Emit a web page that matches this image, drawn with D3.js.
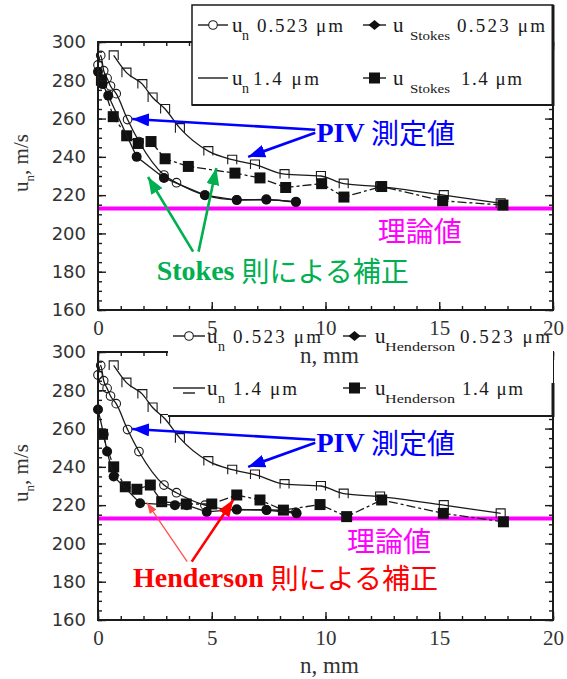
<!DOCTYPE html>
<html><head><meta charset="utf-8">
<script src="https://cdn.jsdelivr.net/npm/d3@7"></script>
<style>body{margin:0;background:#fff} svg{display:block}</style>
</head><body><svg id="c" width="567" height="679"></svg>
<script>
// ---------- data ----------
const xTicks = [0, 5, 10, 15, 20];
const yTicks = [160, 180, 200, 220, 240, 260, 280, 300];
const theoryU = 213;
// measured (PIV) velocities [n mm, u m/s]
const un0523 = [[0.0,288],[0.12,293],[0.25,285],[0.4,281],[0.55,277],[0.8,273],[1.3,259.5],[1.8,248],[2.9,230.5],[3.45,226.5],[4.7,220],[6.1,217.6],[7.4,217.6],[8.7,216.3]];
const un14 = [[0.69,293],[1.25,284],[1.95,278],[2.4,271],[2.95,265],[3.6,255],[4.85,243],[5.9,238.5],[6.9,236],[8.2,231],[9.8,230],[10.8,226],[12.4,224.5],[15.2,220],[17.7,215.7]];
// Stokes corrected
const stokes0523 = [[0.0,284.5],[0.2,278],[0.45,272],[1.7,240],[2.9,229],[4.7,220],[6.1,217.4],[7.4,217.8],[8.7,216.6]];
const stokes14 = [[0.15,280],[0.67,261],[1.26,251],[1.77,247],[2.33,248],[2.95,239],[3.97,235],[6.02,231.5],[7.12,229],[8.25,224],[9.83,226],[10.81,219],[12.47,224.5],[15.15,217],[17.8,214.8]];
// Henderson corrected
const henderson0523 = [[0.0,270],[0.25,257],[0.4,248],[0.69,235],[1.85,221],[3.38,220],[3.9,220],[4.78,216.5],[6.1,217.8],[7.41,217.4],[8.73,215.7]];
const henderson14 = [[0.2,257],[0.69,240],[1.2,229.6],[1.71,228.3],[2.3,230.5],[2.8,221.8],[3.88,220.6],[5.0,220.6],[6.1,225.3],[7.12,222.7],[8.15,217.4],[9.76,220.3],[10.93,214],[12.47,222.7],[15.18,215.7],[17.82,211.3]];
const corrNames = ["Stokes", "Henderson"];
const sizeLabels = ["0.523 \u03bcm", "1.4 \u03bcm"];

// ---------- layout ----------
const svg = d3.select("#c");
const X0 = 98, X1 = 553;
const INK = "#1a1a1a";
const SERIF = "'Liberation Serif','Times New Roman',serif";

const defs = svg.append("defs");
function arrowMarker(id, color, len, wid){
  defs.append("marker").attr("id", id).attr("markerUnits","userSpaceOnUse")
    .attr("markerWidth", len).attr("markerHeight", wid)
    .attr("refX", len).attr("refY", wid/2).attr("orient","auto")
    .append("path").attr("d", `M0,0L${len},${wid/2}L0,${wid}Z`).attr("fill", color);
}
arrowMarker("ab", "#0000ff", 17, 13);
arrowMarker("ag", "#00b050", 17, 13);
arrowMarker("ar", "#ff0000", 17, 13);
arrowMarker("ar2", "#ff5050", 11, 8);

const panels = [
  {top:42, bottom:310, corrSmall:stokes0523, corrLarge:stokes14, name:corrNames[0]},
  {top:352, bottom:620, corrSmall:henderson0523, corrLarge:henderson14, name:corrNames[1]}
];

const capPath = "M-4.5,4.5V-4.5H4.5V4.5";
const topXLabelGroups = [];

panels.forEach((p, i) => {
  const x = d3.scaleLinear([0, 20], [X0, X1]);
  const y = d3.scaleLinear([160, 300], [p.bottom, p.top]);
  p.x = x; p.y = y;
  const g = svg.append("g");

  // theoretical value
  g.append("line").attr("x1", x(0)).attr("x2", x(20))
    .attr("y1", y(theoryU)).attr("y2", y(theoryU))
    .attr("stroke", "#ff00ff").attr("stroke-width", 4);

  const smooth = d3.line().x(d => x(d[0])).y(d => y(d[1])).curve(d3.curveMonotoneX);
  const straight = d3.line().x(d => x(d[0])).y(d => y(d[1]));

  // u_n 1.4
  g.append("path").attr("d", smooth(un14)).attr("fill","none").attr("stroke",INK).attr("stroke-width",1.3);
  g.selectAll(".m14").data(un14).join("path")
    .attr("transform", d => `translate(${x(d[0])},${y(d[1])})`)
    .attr("d", capPath).attr("fill","none").attr("stroke",INK).attr("stroke-width",1.1);
  // u_n 0.523
  g.append("path").attr("d", smooth(un0523)).attr("fill","none").attr("stroke",INK).attr("stroke-width",1.3);
  g.selectAll(".m05").data(un0523).join("circle")
    .attr("cx", d => x(d[0])).attr("cy", d => y(d[1])).attr("r", 4.3)
    .attr("fill","none").attr("stroke",INK).attr("stroke-width",1.1);
  // corrected 1.4
  g.append("path").attr("d", straight(p.corrLarge)).attr("fill","none").attr("stroke",INK)
    .attr("stroke-width",1.3).attr("stroke-dasharray","9,3,3,3");
  g.selectAll(".c14").data(p.corrLarge).join("rect")
    .attr("x", d => x(d[0]) - 5.5).attr("y", d => y(d[1]) - 5.5)
    .attr("width", 11).attr("height", 11).attr("fill", "#111");
  // corrected 0.523
  g.append("path").attr("d", straight(p.corrSmall)).attr("fill","none").attr("stroke",INK).attr("stroke-width",1.3);
  g.selectAll(".c05").data(p.corrSmall).join("circle")
    .attr("cx", d => x(d[0])).attr("cy", d => y(d[1])).attr("r", 5)
    .attr("fill", "#111");

  // axes
  const styleAxis = sel => { sel.select(".domain").remove(); sel.selectAll("line").attr("stroke", INK).attr("stroke-width", 1.4); };
  g.append("g").attr("transform", `translate(${X0},0)`)
    .call(d3.axisLeft(y).tickValues(d3.range(160, 301, 5)).tickSize(-4).tickFormat("")).call(styleAxis);
  const yl = g.append("g").attr("transform", `translate(${X0},0)`)
    .call(d3.axisLeft(y).tickValues(yTicks).tickSize(-8).tickPadding(12)).call(styleAxis);
  yl.selectAll("text").attr("font-family","'DejaVu Sans',sans-serif").attr("font-size",18).attr("fill","#333");
  g.append("g").attr("transform", `translate(${X1},0)`)
    .call(d3.axisRight(y).tickValues(d3.range(160, 301, 5)).tickSize(-4).tickFormat("")).call(styleAxis);
  g.append("g").attr("transform", `translate(${X1},0)`)
    .call(d3.axisRight(y).tickValues(yTicks).tickSize(-8).tickFormat("")).call(styleAxis);
  g.append("g").attr("transform", `translate(0,${p.top})`)
    .call(d3.axisTop(x).tickValues(d3.range(0, 21, 1)).tickSize(-4).tickFormat("")).call(styleAxis);
  g.append("g").attr("transform", `translate(0,${p.top})`)
    .call(d3.axisTop(x).tickValues(xTicks).tickSize(-8).tickFormat("")).call(styleAxis);
  g.append("g").attr("transform", `translate(0,${p.bottom})`)
    .call(d3.axisBottom(x).tickValues(d3.range(0, 21, 1)).tickSize(-4).tickFormat("")).call(styleAxis);
  const xl = g.append("g").attr("transform", `translate(0,${p.bottom})`)
    .call(d3.axisBottom(x).tickValues(xTicks).tickSize(-8).tickPadding(10)).call(styleAxis);
  xl.selectAll("text").attr("font-family", SERIF).attr("font-size", 21).attr("fill","#333");
  const xt = g.append("text").attr("x", x(10) + 4).attr("y", p.bottom + 53)
    .attr("text-anchor","middle").attr("font-family",SERIF).attr("font-size",23).attr("fill","#333").text("n, mm");
  if (i === 0) { topXLabelGroups.push(xl.node(), xt.node()); }

  // frame
  g.append("rect").attr("x", X0).attr("y", p.top).attr("width", X1 - X0).attr("height", p.bottom - p.top)
    .attr("fill","none").attr("stroke", INK).attr("stroke-width", 2);

  // y title
  const yt = g.append("text").attr("transform", `translate(28,${(p.top + p.bottom)/2 - 13}) rotate(-90)`)
    .attr("text-anchor","middle").attr("font-family",SERIF).attr("font-size",21).attr("fill","#333");
  yt.append("tspan").text("u");
  yt.append("tspan").attr("font-size",13).attr("dy",6).text("n");
  yt.append("tspan").attr("dy",-6).text(", m/s");
});

// ---------- annotations ----------
function annot(p, cfg){
  const {x, y} = p;
  const t = svg.append("text").attr("x", x(cfg.n)).attr("y", y(cfg.u))
    .attr("dominant-baseline","central").attr("font-size",28).attr("fill",cfg.color);
  if (cfg.latin) t.append("tspan").attr("font-family",SERIF).attr("font-weight","bold").text(cfg.latin + " ");
  t.append("tspan").attr("font-family","'Noto Sans CJK JP',sans-serif").text(cfg.jp);
}
function arrow(p, a, b, color, w, mk){
  svg.append("line").attr("x1", p.x(a[0])).attr("y1", p.y(a[1])).attr("x2", p.x(b[0])).attr("y2", p.y(b[1]))
    .attr("stroke", color).attr("stroke-width", w).attr("marker-end", `url(#${mk})`);
}
panels.forEach((p, i) => {
  annot(p, {n:9.6, u:253, color:"#0000ff", latin:"PIV", jp:"測定値"});
  arrow(p, [9.55,254.2], [1.5,259.8], "#0000ff", 2.6, "ab");
  arrow(p, [9.55,252.6], [6.6,240.0], "#0000ff", 2.6, "ab");
});
annot(panels[0], {n:12.3, u:201.8, color:"#ff00ff", jp:"理論値"});
annot(panels[0], {n:2.58, u:181, color:"#00b050", latin:"Stokes", jp:"則による補正"});
arrow(panels[0], [4.18,190.5], [2.2,229.5], "#00b050", 2.6, "ag");
arrow(panels[0], [4.42,190.5], [5.2,234.2], "#00b050", 2.6, "ag");
annot(panels[1], {n:10.95, u:201.8, color:"#ff00ff", jp:"理論値"});
annot(panels[1], {n:1.54, u:182.5, color:"#ff0000", latin:"Henderson", jp:"則による補正"});
arrow(panels[1], [3.92,190.5], [2.15,221.3], "#ff5050", 1.3, "ar2");
arrow(panels[1], [4.12,190.5], [5.95,222.8], "#ff0000", 2.6, "ar");

// ---------- legends ----------
function legend(cfg){
  const L = svg.append("g");
  L.append("rect").attr("x", cfg.x0).attr("y", cfg.y0).attr("width", 553 - cfg.x0).attr("height", cfg.y1 - cfg.y0)
    .attr("fill","#fff").attr("stroke", cfg.box ? INK : "none").attr("stroke-width", 1.5);
  L.append("line").attr("x1", cfg.x0).attr("x2", 553).attr("y1", cfg.y1).attr("y2", cfg.y1).attr("stroke", INK).attr("stroke-width", 2);
  L.append("line").attr("x1", 553).attr("x2", 553).attr("y1", cfg.rTop).attr("y2", cfg.y1 + 1).attr("stroke", INK).attr("stroke-width", 3);
  const rows = cfg.rows;
  const entries = [
    {col:0, row:0, sub:"n", val:sizeLabels[0], sym:"circle"},
    {col:1, row:0, sub:cfg.name, val:sizeLabels[0], sym:"dot"},
    {col:0, row:1, sub:"n", val:sizeLabels[1], sym:"line"},
    {col:1, row:1, sub:cfg.name, val:sizeLabels[1], sym:"square"}
  ];
  entries.forEach(e => {
    const c = cfg.cols[e.col], by = rows[e.row];
    const sy = by - 7;
    L.append("line").attr("x1", c.s0).attr("x2", c.s1).attr("y1", sy).attr("y2", sy).attr("stroke", INK).attr("stroke-width", 1.4);
    const cx = (c.s0 + c.s1) / 2;
    if (e.sym === "circle") L.append("circle").attr("cx", cx).attr("cy", sy).attr("r", 4.3).attr("fill","#fff").attr("stroke",INK).attr("stroke-width",1.1);
    if (e.sym === "dot") L.append("path").attr("d", `M${cx-6},${sy}L${cx},${sy-5}L${cx+6},${sy}L${cx},${sy+5}Z`).attr("fill","#111");
    if (e.sym === "square") L.append("rect").attr("x", cx-5.5).attr("y", sy-5.5).attr("width",11).attr("height",11).attr("fill","#111");
    if (e.sym === "line" && cfg.name === "Henderson") L.append("line").attr("x1", cx-6).attr("x2", cx+6).attr("y1", sy+5).attr("y2", sy+5).attr("stroke", INK).attr("stroke-width",1.4);
    L.append("text").attr("x", c.u).attr("y", by).attr("font-family",SERIF).attr("font-size",21).attr("fill",INK).text("u");
    const st = L.append("text").attr("x", c.sub).attr("y", by + 8).attr("font-family",SERIF).attr("font-size", e.sub === "n" ? 14 : 12).attr("fill",INK).text(e.sub);
    if (e.sub !== "n") st.attr("textLength", c.subW).attr("lengthAdjust","spacingAndGlyphs");
    L.append("text").attr("x", c.v[e.row]).attr("y", by).attr("font-family",SERIF).attr("font-size",19).attr("fill",INK)
      .attr("textLength", c.vw[e.row]).attr("lengthAdjust","spacing").text(e.val);
  });
  return L;
}
legend({x0:192, y0:5, y1:105, rTop:5, box:true, name:"Stokes", rows:[32, 85],
  cols:[{s0:198, s1:228, u:232, sub:242, v:[257,253], vw:[86,66]},
        {s0:363, s1:386, u:393, sub:410, subW:40, v:[457,461], vw:[88,61]}]});
legend({x0:168, y0:321, y1:416, rTop:383, box:false, name:"Henderson", rows:[343, 395],
  cols:[{s0:173, s1:205, u:207, sub:218, v:[233,233], vw:[88,64]},
        {s0:343, s1:366, u:375, sub:385, subW:70, v:[460,462], vw:[90,61]}]});

// top panel x labels sit above the lower legend
topXLabelGroups.forEach(n => svg.node().appendChild(n));
</script>
</body></html>
